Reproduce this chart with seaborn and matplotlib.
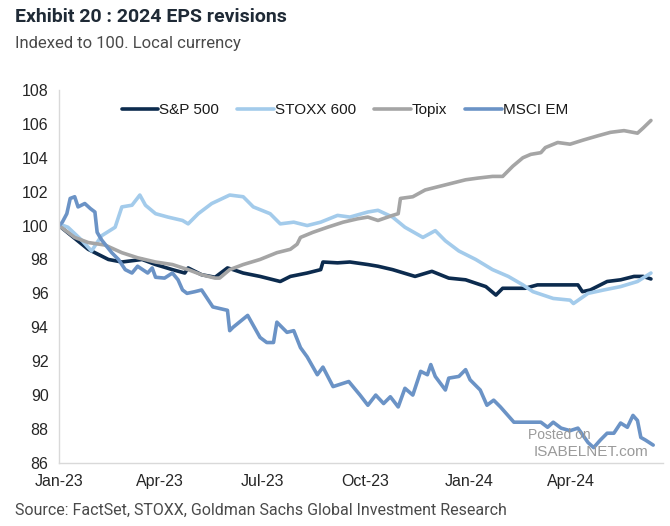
import pandas as pd
import matplotlib
matplotlib.use("Agg")
import matplotlib.pyplot as plt
import matplotlib.dates as mdates
import seaborn as sns

# --- Data (days since 2023-01-01, index level) ---
START = pd.Timestamp("2023-01-01")

sp_days = [0, 26, 44, 56, 74, 86, 101, 112, 115, 127, 139, 150, 155, 164, 179, 197, 206,
           221, 233, 235, 248, 259, 275, 284, 297, 317, 332, 347, 362, 380, 389, 395, 415,
           426, 440, 462, 466, 473, 488, 500, 512, 520, 527]
sp_vals = [100.0, 98.6, 98.0, 97.85, 98.0, 97.7, 97.4, 97.2, 97.5, 97.1, 96.95, 97.5, 97.4,
           97.2, 97.0, 96.7, 97.0, 97.2, 97.4, 97.85, 97.8, 97.85, 97.7, 97.6, 97.4, 97.0,
           97.3, 96.9, 96.8, 96.4, 95.9, 96.3, 96.3, 96.5, 96.5, 96.5, 96.1, 96.2, 96.7,
           96.8, 97.0, 97.0, 96.85]

stoxx_days = [0, 8, 20, 29, 38, 50, 56, 65, 72, 77, 86, 97, 110, 115, 124, 136, 152, 164,
              173, 188, 197, 209, 221, 233, 248, 259, 275, 284, 297, 308, 324, 335, 344,
              356, 371, 386, 400, 413, 422, 440, 455, 458, 471, 485, 500, 515, 527]
stoxx_vals = [100.1, 99.9, 99.15, 98.5, 99.4, 99.9, 101.1, 101.2, 101.8, 101.2, 100.7, 100.5,
              100.3, 100.1, 100.7, 101.3, 101.8, 101.7, 101.1, 100.7, 100.1, 100.2, 100.0,
              100.2, 100.6, 100.5, 100.8, 100.9, 100.5, 99.9, 99.3, 99.7, 99.1, 98.5, 98.0,
              97.4, 97.0, 96.5, 96.1, 95.7, 95.6, 95.4, 96.0, 96.2, 96.4, 96.7, 97.2]

topix_days = [0, 14, 26, 41, 56, 70, 86, 101, 115, 127, 139, 143, 152, 164, 179, 194, 206,
              212, 215, 226, 239, 253, 266, 275, 284, 297, 302, 304, 315, 326, 338, 350, 362,
              373, 386, 395, 404, 413, 420, 429, 433, 444, 455, 467, 480, 491, 503, 515, 520,
              527]
topix_vals = [100.0, 99.3, 99.0, 98.85, 98.4, 98.1, 97.85, 97.7, 97.4, 97.1, 96.9, 96.9,
              97.4, 97.7, 98.0, 98.4, 98.6, 98.9, 99.3, 99.6, 99.9, 100.2, 100.4, 100.5,
              100.3, 100.6, 100.7, 101.6, 101.7, 102.1, 102.3, 102.5, 102.7, 102.8, 102.9,
              102.9, 103.5, 104.0, 104.2, 104.3, 104.6, 104.9, 104.8, 105.05, 105.3, 105.5,
              105.6, 105.45, 105.75, 106.2]

em_days = [0, 3, 7, 10, 14, 17, 23, 28, 32, 34, 38, 47, 53, 59, 65, 70, 79, 83, 86, 94,
           101, 106, 110, 114, 121, 127, 137, 150, 152, 155, 168, 179, 185, 191, 194, 203,
           209, 215, 221, 230, 235, 244, 258, 268, 275, 282, 289, 295, 302, 308, 315, 322,
           328, 331, 335, 344, 347, 356, 362, 366, 375, 381, 387, 393, 405, 417, 429, 435,
           440, 447, 455, 462, 471, 476, 482, 488, 494, 500, 506, 511, 515, 518, 522, 529]
em_vals = [100.0, 100.2, 100.7, 101.6, 101.7, 101.1, 101.3, 101.0, 100.8, 99.6, 99.15, 98.4,
           98.0, 97.4, 97.2, 97.6, 97.2, 97.5, 96.95, 96.9, 97.2, 96.8, 96.2, 96.0, 96.1,
           96.2, 95.2, 95.0, 93.8, 94.0, 94.7, 93.4, 93.1, 93.1, 94.3, 93.7, 93.8, 92.8,
           92.25, 91.2, 91.65, 90.5, 90.8, 90.0, 89.4, 90.0, 89.5, 89.9, 89.3, 90.4, 90.0,
           91.4, 91.2, 91.8, 91.1, 90.3, 91.0, 91.1, 91.5, 90.9, 90.3, 89.4, 89.7, 89.3,
           88.4, 88.4, 88.4, 88.1, 88.4, 88.05, 87.9, 88.05, 87.2, 86.9, 87.35, 87.75,
           87.75, 88.35, 88.1, 88.8, 88.5, 87.5, 87.35, 87.05]

series_names = ["S&P 500", "STOXX 600", "Topix", "MSCI EM"]
series_colors = ["#0c2b4e", "#a3cbeb", "#a5a5a5", "#6b93c6"]

frames = []
for name, d, v in zip(series_names,
                      [sp_days, stoxx_days, topix_days, em_days],
                      [sp_vals, stoxx_vals, topix_vals, em_vals]):
    frames.append(pd.DataFrame({"date": START + pd.to_timedelta(d, unit="D"),
                                "value": v, "series": name}))
df = pd.concat(frames, ignore_index=True)

# --- Plot ---
sns.set_style("white")
plt.rcParams["font.family"] = ["Liberation Sans", "DejaVu Sans"]

fig = plt.figure(figsize=(6.7, 5.26), dpi=100)
ax = fig.add_axes([0.088, 0.12, 0.902, 0.709])

sns.lineplot(data=df, x="date", y="value", hue="series", hue_order=series_names,
             palette=series_colors, estimator=None, linewidth=2.6, ax=ax)

ax.set_ylim(86, 108)
ax.set_yticks(range(86, 109, 2))
ax.set_xlim(START, START + pd.Timedelta(days=538))
ax.xaxis.set_major_locator(mdates.MonthLocator(bymonth=[1, 4, 7, 10]))
ax.xaxis.set_major_formatter(mdates.DateFormatter("%b-%y"))
ax.set_xlabel("")
ax.set_ylabel("")

for side in ["top", "right"]:
    ax.spines[side].set_visible(False)
for side in ["left", "bottom"]:
    ax.spines[side].set_color("#d9d9d9")
    ax.spines[side].set_linewidth(1.0)
ax.tick_params(axis="both", labelsize=11.5, colors="#d9d9d9", labelcolor="#262626",
               length=4, width=1.0)
ax.tick_params(axis="x", pad=4)

ax.legend(ncol=4, frameon=False, loc="center", bbox_to_anchor=(0.473, 0.946),
          fontsize=11, handlelength=2.4, handletextpad=0.05, columnspacing=1.2,
          labelcolor="#1a1a1a")

# watermark
ax.text(0.88, 0.075, "Posted on", transform=ax.transAxes, fontsize=10,
        color="#9a9a9a", ha="right", va="center")
ax.text(0.975, 0.028, "ISABELNET.com", transform=ax.transAxes, fontsize=11,
        color="#9a9a9a", ha="right", va="center")

# titles
fig.text(0.022, 0.968, "Exhibit 20 : 2024 EPS revisions", fontsize=14,
         fontweight="bold", color="#1f2a36", family=["Roboto", "DejaVu Sans"], va="center")
fig.text(0.022, 0.918, "Indexed to 100. Local currency", fontsize=12,
         color="#4a4a4a", family=["Roboto", "DejaVu Sans"], va="center")
fig.text(0.022, 0.030, "Source: FactSet, STOXX, Goldman Sachs Global Investment Research",
         fontsize=11.5, color="#4a4a4a", family=["Roboto", "DejaVu Sans"], va="center")

fig.savefig("out.png", dpi=100)
